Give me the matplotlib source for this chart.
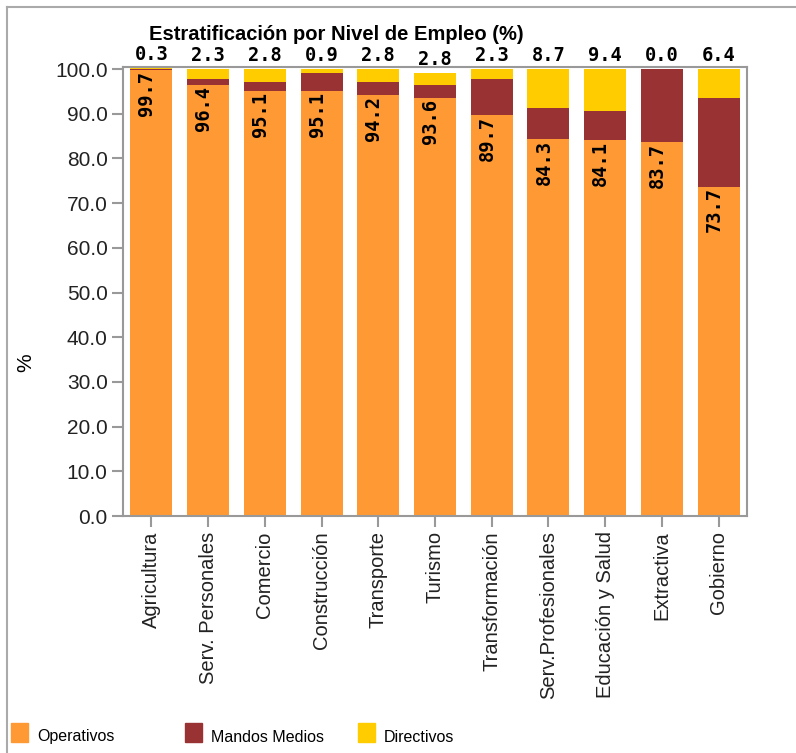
import matplotlib.pyplot as plt
import numpy as np
from matplotlib.patches import Rectangle
from matplotlib.lines import Line2D

sectores = ["Agricultura", "Serv. Personales", "Comercio", "Construcción",
            "Transporte", "Turismo", "Transformación", "Serv.Profesionales",
            "Educación y Salud", "Extractiva", "Gobierno"]
operativos = [99.7, 96.4, 95.1, 95.1, 94.2, 93.6, 89.7, 84.3, 84.1, 83.7, 73.7]
mandos = [0.2, 1.3, 2.1, 4.0, 3.0, 2.8, 8.0, 7.0, 6.5, 16.3, 19.9]
directivos = [0.3, 2.3, 2.8, 0.9, 2.8, 2.8, 2.3, 8.7, 9.4, 0.0, 6.4]
y_ticks = [0, 10, 20, 30, 40, 50, 60, 70, 80, 90, 100]

c_op = "#FF9933"
c_mm = "#993333"
c_dir = "#FFCC00"
gris = "#999999"

W, H = 796, 753
fig = plt.figure(figsize=(W / 100, H / 100), dpi=100)
ax = fig.add_axes([123 / W, 1 - 516 / H, (747 - 123) / W, (516 - 67) / H])

x = np.arange(len(sectores))
op = np.array(operativos)
mm = np.array(mandos)
di = np.array(directivos)
ancho = 0.74

ax.bar(x, op, ancho, color=c_op)
ax.bar(x, mm, ancho, bottom=op, color=c_mm)
ax.bar(x, di, ancho, bottom=op + mm, color=c_dir)

# valores de operativos dentro de la barra, de directivos encima
for i in range(len(x)):
    ax.text(x[i] - 0.08, op[i] - 0.2, f"{op[i]:.1f}", rotation=90,
            ha="center", va="top", fontsize=13.5, fontweight="bold",
            family="DejaVu Sans Mono", color="black")
    ax.text(x[i], op[i] + mm[i] + di[i] + 0.9, f"{di[i]:.1f}",
            ha="center", va="bottom", fontsize=13.5, fontweight="bold",
            family="DejaVu Sans Mono", color="black", clip_on=False)

ax.set_xlim(-0.5, 10.5)
ax.set_ylim(0, 100.45)
ax.set_yticks(y_ticks)
ax.set_yticklabels([f"{v:.1f}" for v in y_ticks], family="Liberation Sans",
                   fontsize=15, color="#222222")
ax.set_xticks(x)
ax.set_xticklabels(sectores, rotation=90, family="Liberation Sans",
                   fontsize=14.5, color="#222222")
ax.tick_params(axis="both", color=gris, width=1.5, length=8, pad=3)
for s in ax.spines.values():
    s.set_color(gris)
    s.set_linewidth(1.5)
ax.set_ylabel("%", family="Liberation Sans", fontsize=15)
ax.yaxis.set_label_coords(-88 / (747 - 123), (516 - 363) / (516 - 67))

fig.text(336 / W, 1 - 35 / H, "Estratificación por Nivel de Empleo (%)",
         ha="center", va="center", fontsize=14.5, fontweight="bold",
         family="Liberation Sans")

# marco exterior
fig.add_artist(Line2D([7 / W, 1], [1 - 7 / H, 1 - 7 / H], color="#AAAAAA", lw=1.5))
fig.add_artist(Line2D([7 / W, 7 / W], [0, 1 - 7 / H], color="#AAAAAA", lw=1.5))

# leyenda
for xpos, col, nombre in [(11, c_op, "Operativos"), (185, c_mm, "Mandos Medios"),
                          (358, c_dir, "Directivos")]:
    fig.add_artist(Rectangle((xpos / W, 1 - 742 / H), 17 / W, 19 / H,
                             transform=fig.transFigure, color=col))
    fig.text((xpos + 26) / W, 1 - 737 / H, nombre, ha="left", va="center",
             fontsize=11.5, family="Liberation Sans")

fig.savefig("out.png", dpi=100)
